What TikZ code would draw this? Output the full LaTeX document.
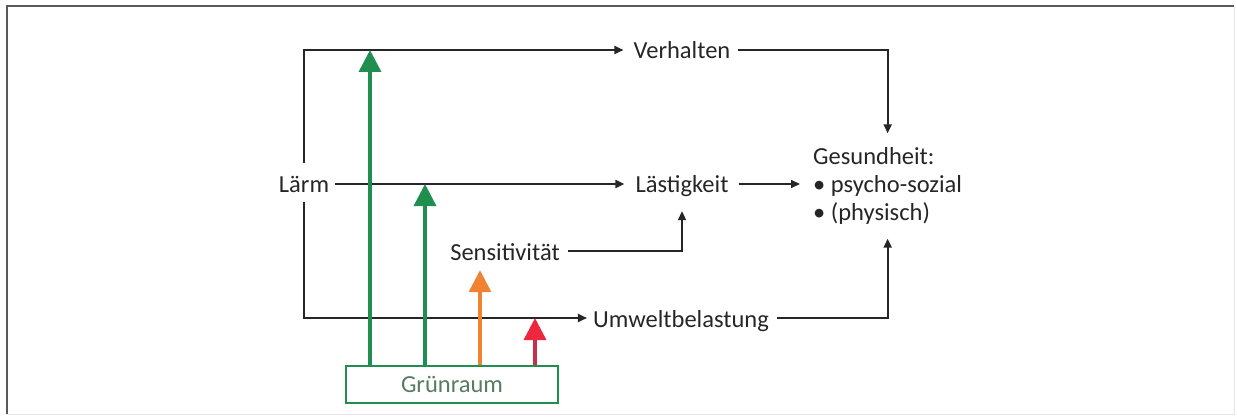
\documentclass[tikz,border=0pt]{standalone}
\usepackage{fontspec}
\setmainfont{Carlito}
\usetikzlibrary{arrows.meta,calc}
\definecolor{gcol}{RGB}{32,142,78}
\definecolor{gtext}{RGB}{85,125,95}
\definecolor{ocol}{RGB}{240,130,50}
\definecolor{rhead}{RGB}{236,40,62}
\definecolor{rline}{RGB}{200,48,72}
\definecolor{tcol}{RGB}{38,38,38}
\tikzset{
  lbl/.style={inner sep=0pt, text height=24pt, text depth=6pt, anchor=base, text=tcol},
  conn/.style={line width=2pt, draw=tcol, -{Triangle[length=9pt,width=8pt]}},
  bigarrow/.style={line width=3.5pt, -{Triangle[length=22pt,width=22pt]}},
}
\begin{document}
\begin{tikzpicture}[x=1pt,y=-1pt,font=\fontsize{24.5}{28}\selectfont]
\useasboundingbox (0,0) rectangle (1237,417);
% frame
\draw[line width=2pt, draw=black!65] (7,414) -- (7,6) -- (1234,6);
\draw[line width=1pt, draw=black!10] (1234,6) -- (1234,414) -- (7,414);
% nodes
\node[lbl] (laerm) at (304,193) {Lärm};
\node[lbl] (verh) at (682,59) {Verhalten};
\node[lbl] (laest) at (682,193) {Lästigkeit};
\node[lbl] (sens) at (505,260) {Sensitivität};
\node[lbl] (umw) at (681,327) {Umweltbelastung};
\node[align=left, anchor=west, inner xsep=12pt, inner ysep=14pt, text=tcol] (ges) at (801,186)
  {Gesundheit:\\• psycho-sozial\\• (physisch)};
\node[draw=gcol, line width=2pt, minimum width=212pt, minimum height=37pt, inner sep=0pt, text=gtext] (gruen) at (452,384.5) {Grünraum};
% black connectors
\draw[conn, shorten <=6pt, shorten >=10pt] (laerm.north) |- (verh.west);
\draw[conn, shorten <=6pt, shorten >=11pt] (laerm.east) -- (laest.west);
\draw[conn, shorten <=3pt, shorten >=6pt] (laerm.south) |- (umw.west);
\draw[conn, shorten <=10pt, shorten >=1pt] (laest.east) -- (laest.east -| ges.west);
\draw[conn, shorten <=7pt] (verh.east) -| (ges.north);
\draw[conn, shorten <=8pt, shorten >=12pt] (sens.east) -| (laest.south);
\draw[conn, shorten <=8pt] (umw.east) -| (ges.south);
% coordinates on Grünraum box
\coordinate (s1) at ($(gruen.north west)+(25,0)$);
\coordinate (s2) at ($(gruen.north west)+(80,0)$);
\coordinate (s3) at ($(gruen.north west)+(135,0)$);
\coordinate (s4) at ($(gruen.north west)+(190,0)$);
% coloured arrows
\draw[bigarrow, draw=gcol, fill=gcol] (s1) -- (s1 |- verh.west);
\draw[bigarrow, draw=gcol, fill=gcol] (s2) -- (s2 |- laest.west);
\draw[bigarrow, draw=ocol, fill=ocol, shorten >=4pt] (s3) -- (s3 |- sens.south);
\draw[line width=3.5pt, draw=rline, -{Triangle[length=22pt,width=22pt,color=rhead]}] (s4) -- (s4 |- umw.west);
\end{tikzpicture}
\end{document}
